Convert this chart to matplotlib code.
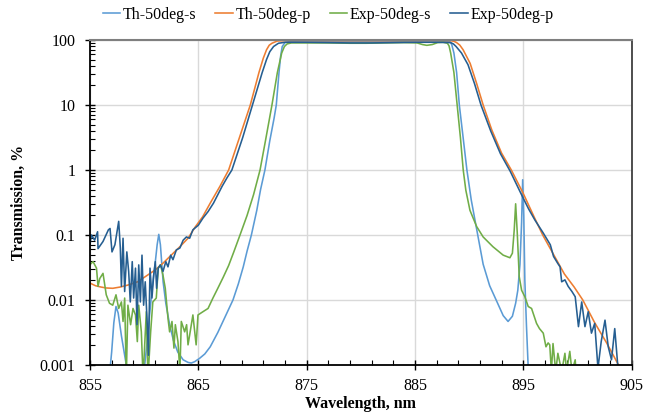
import numpy as np
import matplotlib
matplotlib.use('Agg')
import matplotlib.pyplot as plt
from matplotlib.ticker import LogLocator, FixedLocator, FuncFormatter, NullFormatter

plt.rcParams['font.family'] = ['Liberation Serif', 'DejaVu Serif']

# values: wavelength (nm) and log10 of transmission (%)
th_s_wl = [856.6, 857.0, 857.2, 857.4, 857.6, 857.9, 858.2, 858.4, 859.0, 859.7, 860.05,
           860.3, 860.5, 860.75, 861.0, 861.2, 861.35, 861.5, 861.75, 862.0, 862.35, 862.7,
           863.1, 863.6, 864.05, 864.35, 864.65, 865.1, 865.6, 866.1, 866.8, 867.5, 868.2,
           868.7, 869.15, 869.5, 869.9, 870.4, 870.75, 871.15, 871.6, 872.0, 872.2, 872.45,
           872.6, 872.75, 873.0, 873.5, 875.0, 877.0, 879.0, 881.0, 883.0, 885.0, 887.0,
           888.0, 888.25, 888.4, 888.6, 888.85, 889.1, 889.45, 889.8, 890.2, 890.8, 891.3,
           891.9, 892.5, 893.15, 893.6, 894.0, 894.3, 894.5, 894.7, 894.85, 894.95, 895.05,
           895.15, 895.3, 895.45, 895.7]
th_s_logT = [-3.5, -2.8, -2.35, -2.10, -2.2, -2.55, -2.85, -3.05, -4.0, -3.3, -3.0,
             -2.6, -2.23, -1.8, -1.46, -1.15, -0.99, -1.15, -1.72, -2.05, -2.38, -2.62,
             -2.80, -2.92, -2.96, -2.97, -2.95, -2.9, -2.83, -2.72, -2.5, -2.25, -2.0,
             -1.75, -1.49, -1.25, -1.0, -0.62, -0.3, 0.0, 0.45, 0.8, 1.0, 1.5,
             1.75, 1.9, 1.96, 1.98, 1.985, 1.98, 1.975, 1.975, 1.98, 1.985, 1.985,
             1.98, 1.97, 1.93, 1.8, 1.5, 1.0, 0.5, 0.0, -0.46, -1.0, -1.45,
             -1.78, -2.0, -2.24, -2.33, -2.25, -2.05, -1.85, -1.45, -0.8, -0.15, -0.7,
             -1.7, -2.4, -3.0, -3.8]

th_p_wl = [855.0, 855.5, 856.0, 856.5, 857.1, 857.8, 858.5, 859.4, 860.2, 861.0, 861.7,
           862.5, 863.3, 864.05, 864.7, 865.4, 866.1, 867.0, 867.8, 868.3, 868.8, 869.3,
           869.8, 870.2, 870.6, 871.0, 871.3, 871.55, 871.8, 872.3, 873.0, 875.0, 878.0,
           881.0, 884.0, 887.0, 888.3, 888.6, 888.85, 889.15, 889.45, 890.1, 890.7, 891.3,
           892.1, 893.0, 893.9, 895.0, 896.0, 896.8, 897.8, 898.8, 899.7, 900.5, 901.6,
           902.7, 903.8, 904.2]
th_p_logT = [-1.74, -1.78, -1.80, -1.815, -1.82, -1.80, -1.77, -1.72, -1.63, -1.54, -1.44,
             -1.31, -1.18, -1.05, -0.88, -0.72, -0.51, -0.25, 0.0, 0.25, 0.5, 0.75,
             1.0, 1.25, 1.5, 1.72, 1.85, 1.92, 1.95, 1.985, 1.99, 1.99, 1.99,
             1.99, 1.99, 1.99, 1.99, 1.98, 1.96, 1.92, 1.85, 1.64, 1.33, 1.0,
             0.615, 0.26, 0.0, -0.36, -0.72, -1.0, -1.3, -1.6, -1.8, -2.0, -2.35,
             -2.66, -3.0, -3.15]

exp_s_wl = [854.97, 855.28, 855.6, 855.74, 855.9, 856.2, 856.5, 856.8, 857.1, 857.4, 857.65,
            857.9, 858.05, 858.2, 858.35, 858.5, 858.75, 858.97, 859.2, 859.37, 859.5, 859.74,
            859.9, 860.2, 860.35, 860.6, 860.8, 861.12, 861.3, 861.52, 861.74, 861.95, 862.2,
            862.35, 862.57, 862.75, 862.88, 863.12, 863.3, 863.43, 863.74, 863.92, 864.05, 864.2,
            864.5, 864.8, 864.97, 865.43, 865.9, 866.35, 866.8, 867.3, 867.8, 868.3, 868.85,
            869.5, 870.1, 870.7, 871.2, 871.8, 872.3, 872.7, 872.95, 873.2, 873.6, 875.0,
            877.0, 879.0, 880.5, 882.0, 884.0, 885.2, 885.7, 886.1, 886.6, 887.1, 887.6,
            888.0, 888.15, 888.3, 888.6, 888.9, 889.2, 889.46, 889.7, 890.08, 890.7, 891.3,
            892.2, 893.15, 893.77, 894.0, 894.17, 894.3, 894.45, 894.63, 894.85, 895.15, 895.46,
            895.77, 896.23, 896.5, 896.85, 897.1, 897.3, 897.45, 897.6, 897.75, 898.0, 898.2,
            898.55, 898.85, 899.0, 899.3, 899.5, 899.8, 899.9]
exp_s_logT = [-1.46, -1.41, -1.51, -1.79, -1.67, -1.59, -1.92, -2.05, -2.08, -1.92, -2.13,
              -2.03, -2.33, -1.97, -3.2, -2.08, -2.38, -2.13, -2.23, -2.64, -2.08, -2.49,
              -3.2, -2.18, -3.2, -2.49, -2.03, -1.97, -1.51, -1.46, -1.62, -1.82, -2.28,
              -2.49, -2.33, -2.74, -2.38, -2.64, -3.1, -2.33, -2.49, -2.38, -2.69, -2.54,
              -2.23, -2.69, -2.23, -2.18, -2.13, -1.97, -1.82, -1.65, -1.47, -1.25, -1.0,
              -0.7, -0.38, 0.0, 0.45, 1.0, 1.5, 1.8, 1.9, 1.94, 1.955, 1.955,
              1.955, 1.95, 1.95, 1.955, 1.96, 1.955, 1.93, 1.918, 1.93, 1.96, 1.965,
              1.95, 1.91, 1.8, 1.5, 1.0, 0.5, 0.0, -0.31, -0.62, -0.87, -1.03,
              -1.18, -1.31, -1.35, -1.28, -0.92, -0.52, -0.97, -1.64, -1.85, -1.95, -2.1,
              -2.13, -2.36, -2.44, -2.51, -2.72, -2.66, -2.69, -3.1, -2.67, -3.1, -2.82,
              -3.1, -2.82, -3.1, -2.79, -3.1, -2.92, -3.2]

exp_p_wl = [855.0, 855.12, 855.43, 855.7, 855.74, 856.2, 856.7, 856.85, 857.03, 857.3, 857.65,
            857.8, 857.9, 858.05, 858.2, 858.4, 858.57, 858.72, 858.9, 859.03, 859.2, 859.34,
            859.5, 859.65, 859.8, 859.95, 860.1, 860.26, 860.4, 860.54, 860.72, 860.88, 861.03,
            861.15, 861.3, 861.49, 861.74, 862.0, 862.2, 862.45, 862.66, 862.97, 863.3, 863.6,
            863.9, 864.2, 864.5, 865.0, 865.43, 865.9, 866.4, 866.8, 867.2, 867.65, 868.1,
            868.6, 869.1, 869.55, 870.0, 870.45, 870.9, 871.3, 871.6, 871.95, 872.4, 873.0,
            875.0, 877.0, 879.0, 881.0, 883.0, 885.0, 887.0, 888.3, 888.55, 888.8, 889.3,
            889.9, 890.5, 891.1, 891.55, 892.0, 892.9, 893.8, 894.9, 895.5, 896.08, 896.85,
            897.5, 897.8, 898.2, 898.4, 898.55, 898.85, 899.15, 899.5, 899.8, 900.1, 900.4,
            900.7, 901.0, 901.3, 901.6, 901.9, 902.2, 902.55, 902.85, 903.15, 903.45, 903.75]
exp_p_logT = [-1.15, -1.0, -1.08, -0.95, -1.21, -1.1, -0.92, -0.9, -1.26, -1.15, -0.79,
              -1.2, -1.79, -1.05, -1.87, -1.26, -1.56, -2.03, -1.41, -1.97, -1.51, -2.38,
              -1.46, -2.03, -1.31, -2.08, -1.72, -2.28, -2.85, -1.51, -1.97, -1.62, -1.41,
              -1.82, -1.51, -1.46, -1.56, -1.41, -1.49, -1.31, -1.38, -1.23, -1.2, -1.08,
              -1.03, -1.05, -0.92, -0.85, -0.74, -0.64, -0.51, -0.38, -0.25, -0.12, 0.0,
              0.25, 0.5, 0.75, 1.0, 1.25, 1.5, 1.7, 1.82, 1.9, 1.95, 1.965,
              1.965, 1.96, 1.955, 1.955, 1.96, 1.965, 1.965, 1.96, 1.94, 1.9, 1.8,
              1.62, 1.33, 1.0, 0.8, 0.6, 0.25, -0.02, -0.4, -0.6, -0.77, -0.97,
              -1.15, -1.33, -1.44, -1.49, -1.72, -1.69, -1.79, -1.87, -1.95, -2.41, -2.03,
              -2.41, -2.18, -2.51, -2.36, -3.05, -2.64, -2.31, -2.72, -2.92, -2.44, -3.05]

series = [
    ('Th-50deg-s', th_s_wl, th_s_logT, '#5B9BD5'),
    ('Th-50deg-p', th_p_wl, th_p_logT, '#ED7D31'),
    ('Exp-50deg-s', exp_s_wl, exp_s_logT, '#70AD47'),
    ('Exp-50deg-p', exp_p_wl, exp_p_logT, '#255E91'),
]

fig = plt.figure(figsize=(6.56, 4.18), dpi=100)
ax = fig.add_axes([0.1372, 0.1268, 0.8255, 0.7775])

for name, wl, lt, col in series:
    ax.plot(wl, 10 ** np.array(lt), color=col, lw=1.15, label=name)

ax.set_yscale('log')
ax.set_xlim(855, 905)
ax.set_ylim(0.001, 100)

ax.xaxis.set_major_locator(FixedLocator(np.arange(855, 906, 10)))
ax.xaxis.set_minor_locator(FixedLocator(np.arange(857, 905, 2)))
ax.yaxis.set_major_locator(LogLocator(base=10))
ax.yaxis.set_minor_locator(LogLocator(base=10, subs=np.arange(2, 10)))
ax.yaxis.set_major_formatter(FuncFormatter(lambda v, p: '%g' % v))
ax.yaxis.set_minor_formatter(NullFormatter())

ax.tick_params(which='major', direction='inout', length=7, width=1, labelsize=11.5, colors='black')
ax.tick_params(which='minor', direction='in', length=3.5, width=0.8)
ax.tick_params(axis='x', which='major', pad=6)
ax.tick_params(axis='y', which='major', pad=7)

ax.grid(True, which='major', color='#D9D9D9', lw=1)
ax.set_axisbelow(True)

for s in ['left', 'bottom']:
    ax.spines[s].set_color('black')
    ax.spines[s].set_linewidth(1.3)
ax.spines['top'].set_color('#7F7F7F')
ax.spines['top'].set_linewidth(1.5)
ax.spines['right'].set_color('#404040')
ax.spines['right'].set_linewidth(1.3)

ax.set_xlabel('Wavelength, nm', fontsize=11.5, fontweight='bold', labelpad=1)
ax.set_ylabel('Transmission, %', fontsize=11.5, fontweight='bold', labelpad=9)

fig.legend(loc='center', bbox_to_anchor=(0.5, 0.964), ncol=4, frameon=False,
           fontsize=11.5, handlelength=1.1, handletextpad=0.15, columnspacing=1.2)

plt.savefig('out.png', dpi=100)
